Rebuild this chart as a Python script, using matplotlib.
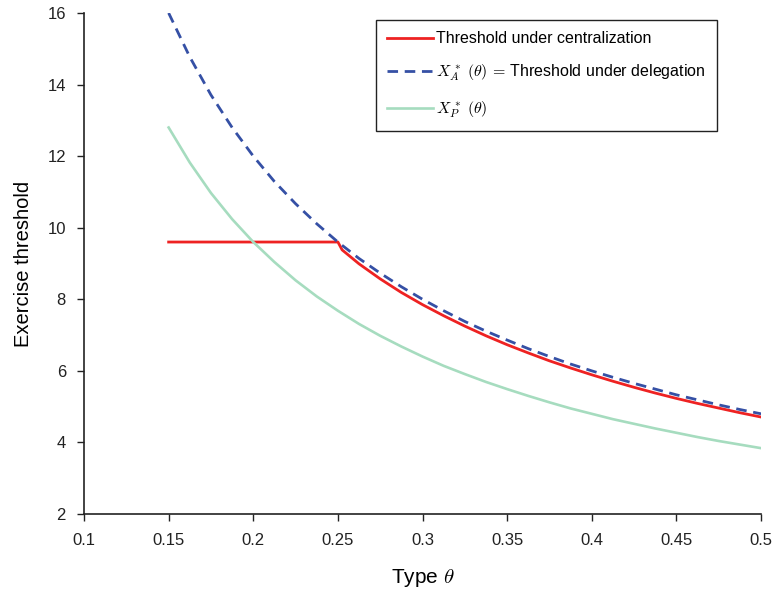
import matplotlib

matplotlib.use("Agg")
import matplotlib.pyplot as plt

plt.rcParams["font.family"] = ["Liberation Sans", "DejaVu Sans"]
plt.rcParams["mathtext.fontset"] = "cm"

# 값은 그림에서 읽은 추정치
theta = [0.15, 0.1625, 0.175, 0.1875, 0.2, 0.2125, 0.225, 0.2375, 0.25, 0.2625,
         0.275, 0.2875, 0.3, 0.3125, 0.325, 0.3375, 0.35, 0.3625, 0.375, 0.3875,
         0.4, 0.4125, 0.425, 0.4375, 0.45, 0.4625, 0.475, 0.4875, 0.5]
x_agent = [16.00, 14.77, 13.71, 12.80, 12.00, 11.29, 10.67, 10.11, 9.60, 9.14,
           8.73, 8.35, 8.00, 7.68, 7.38, 7.11, 6.86, 6.62, 6.40, 6.19,
           6.00, 5.82, 5.65, 5.49, 5.33, 5.19, 5.05, 4.92, 4.80]
x_principal = [12.80, 11.82, 10.97, 10.24, 9.60, 9.04, 8.53, 8.08, 7.68, 7.31,
               6.98, 6.68, 6.40, 6.14, 5.91, 5.69, 5.49, 5.30, 5.12, 4.95,
               4.80, 4.65, 4.52, 4.39, 4.27, 4.15, 4.04, 3.94, 3.84]

theta_central = [0.15, 0.25, 0.2525, 0.2625, 0.275, 0.2875, 0.3, 0.3125, 0.325, 0.3375,
                 0.35, 0.3625, 0.375, 0.3875, 0.4, 0.4125, 0.425, 0.4375, 0.45,
                 0.4625, 0.475, 0.4875, 0.5]
x_central = [9.60, 9.60, 9.38, 8.99, 8.57, 8.19, 7.85, 7.54, 7.25, 6.98,
             6.73, 6.50, 6.28, 6.08, 5.89, 5.71, 5.54, 5.38, 5.23,
             5.09, 4.96, 4.83, 4.71]

fig = plt.figure(figsize=(7.75, 5.93), dpi=100)
ax = fig.add_axes([0.1084, 0.1332, 0.8736, 0.8449])

ax.plot(theta_central, x_central, color="#ee2222", lw=2.0,
        label="Threshold under centralization")
ax.plot(theta, x_agent, color="#3550a5", lw=2.0, ls=(0, (3.8, 2.4)),
        label=r"$X_A^{\,*}\;(\theta)\,=\,$Threshold under delegation")
ax.plot(theta, x_principal, color="#a6dcbf", lw=1.9,
        label=r"$X_P^{\,*}\;(\theta)$")

ax.set_xlim(0.1, 0.5)
ax.set_ylim(2, 16)
ax.set_xticks([0.1, 0.15, 0.2, 0.25, 0.3, 0.35, 0.4, 0.45, 0.5])
ax.set_xticklabels(["0.1", "0.15", "0.2", "0.25", "0.3", "0.35", "0.4", "0.45", "0.5"])
ax.set_yticks(range(2, 17, 2))
ax.tick_params(direction="out", length=5, width=1.0, labelsize=12, colors="#222222")
ax.tick_params(axis="x", pad=9)
ax.tick_params(axis="y", pad=8)
for side in ("top", "right"):
    ax.spines[side].set_visible(False)
for side in ("left", "bottom"):
    ax.spines[side].set_linewidth(1.2)
    ax.spines[side].set_color("#222222")

ax.set_xlabel(r"Type $\theta$", fontsize=15, labelpad=13)
ax.set_ylabel("Exercise threshold", fontsize=14.5, labelpad=10)

leg = ax.legend(loc="upper right", bbox_to_anchor=(717 / 775, 1 - 20 / 593),
                bbox_transform=fig.transFigure, borderaxespad=0, fontsize=11.5,
                fancybox=False, framealpha=1, edgecolor="#222222",
                handlelength=2.9, handletextpad=0.2, borderpad=0.7, labelspacing=1.05)
leg.get_frame().set_linewidth(1.0)

fig.savefig("out.png", dpi=100)
